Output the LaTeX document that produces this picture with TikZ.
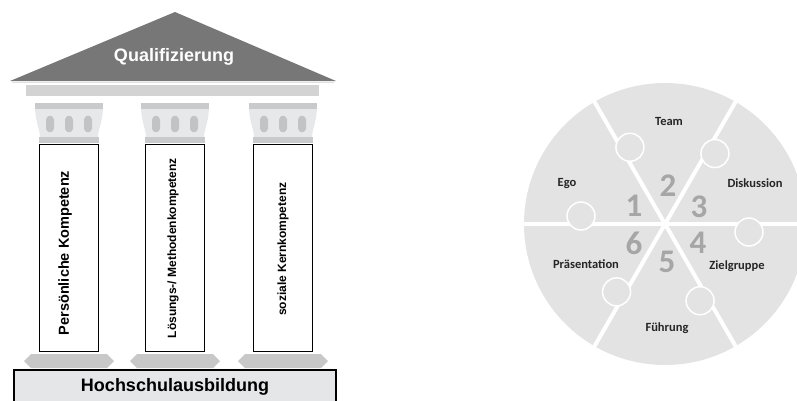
\documentclass[tikz,border=0pt]{standalone}
\usepackage{fontspec}
\setmainfont{Liberation Sans}
\newfontfamily\puzzlefont{Carlito}
\usetikzlibrary{calc}
\definecolor{dach}{HTML}{777777}
\definecolor{balken}{HTML}{D3D3D3}
\definecolor{band}{HTML}{C9CACB}
\definecolor{kapitell}{HTML}{E6E8EA}
\definecolor{ornament}{HTML}{C2C3C4}
\definecolor{sockel}{HTML}{C8C8C8}
\definecolor{fundament}{HTML}{E5E6E7}
\definecolor{puzzle}{HTML}{E3E3E3}
\definecolor{ziffer}{HTML}{A6A6A6}
\tikzset{
    saeule/.style={draw=black, fill=white, line width=1.4pt,
                   minimum width=59pt, minimum height=207pt, inner sep=0pt},
    stext/.style={rotate=90, font=\bfseries\fontsize{13}{13}\selectfont, inner sep=0pt},
    trenn/.style={white, line width=4pt},
    nase/.style={draw=white, fill=puzzle, line width=1.5pt},
    plabel/.style={font=\puzzlefont\bfseries\fontsize{12.5}{13}\selectfont, text=black!85},
    pzahl/.style={font=\puzzlefont\bfseries\fontsize{33}{33}\selectfont, text=ziffer}
}
% kapitell + sockel einer saeule, x=0 ist die mitte
\newcommand{\saeulenkopf}{%
    \fill[band] (-34,103) rectangle (34,109);
    \fill[kapitell] (-34,109) .. controls (-33,124) and (-29,130) .. (-29,137)
        -- (29,137) .. controls (29,130) and (33,124) .. (34,109) -- cycle;
    \fill[ornament,rounded corners=1.5pt] (-19,115) -- (-15,118) -- (-15,130) -- (-19,133) -- (-23,130) -- (-23,118) -- cycle;
    \fill[ornament,rounded corners=1.5pt] (0,115) -- (4,118) -- (4,130) -- (0,133) -- (-4,130) -- (-4,118) -- cycle;
    \fill[ornament,rounded corners=1.5pt] (19,115) -- (23,118) -- (23,130) -- (19,133) -- (15,130) -- (15,118) -- cycle;
    \fill[band] (-30,137) rectangle (30,143);
    \fill[sockel] (-45,361) -- (-38,354) -- (38,354) -- (45,361) -- (38,368) -- (-38,368) -- cycle;
}

\begin{document}
\begin{tikzpicture}[x=1pt,y=-1pt]
    \useasboundingbox (0,0) rectangle (797,400);

    % dach
    \fill[dach] (10,81) -- (175,12) -- (336,81) -- cycle;
    \node[text=white, font=\bfseries\fontsize{18}{18}\selectfont] (quali) at (174,57) {Qualifizierung};
    \draw[balken!70, line width=1pt] (12,82.5) -- (334,82.5);
    \fill[balken] (26,85) rectangle (319,96);

    % saeulen
    \begin{scope}[shift={(69,0)}]
        \saeulenkopf
    \end{scope}
    \begin{scope}[shift={(175,0)}]
        \saeulenkopf
    \end{scope}
    \begin{scope}[shift={(283,0)}]
        \saeulenkopf
    \end{scope}

    \node[saeule] (s1) at (69,248) {};
    \node[saeule] (s2) at (175,248) {};
    \node[saeule] (s3) at (283,248) {};
    \node[stext, font=\bfseries\fontsize{14.5}{14.5}\selectfont] (t1) at (65,253) {Persönliche Kompetenz};
    \node[stext, font=\bfseries\fontsize{12}{12}\selectfont] (t2) at (173,248) {Lösungs-/ Methodenkompetenz};
    \node[stext, font=\bfseries\fontsize{12}{12}\selectfont] (t3) at (283,249) {soziale Kernkompetenz};

    % fundament
    \draw[fill=fundament, line width=1.4pt] (14,370) rectangle (336,404);
    \node[font=\bfseries\fontsize{18}{18}\selectfont] (hs) at (175,387) {Hochschulausbildung};

    % puzzle
    \begin{scope}[shift={(665,224)}, yscale=-1]
        \fill[puzzle] (0,0) circle (141);
        \draw[trenn] (180:142) -- (0:142);
        \draw[trenn] (240:142) -- (60:142);
        \draw[trenn] (300:142) -- (120:142);
        \draw[nase] ($(0:84)+(-90:8)$) circle (14);
        \draw[nase] ($(60:86)+(-30:8)$) circle (14);
        \draw[nase] ($(120:84)+(30:8)$) circle (14);
        \draw[nase] ($(180:84)+(90:8)$) circle (14);
        \draw[nase] ($(240:83)+(150:8)$) circle (14);
        \draw[nase] ($(300:84)+(210:8)$) circle (14);
    \end{scope}

    \node[pzahl] (z1) at (634,206) {1};
    \node[pzahl] (z2) at (668,186) {2};
    \node[pzahl] (z3) at (699,207) {3};
    \node[pzahl] (z4) at (698,243) {4};
    \node[pzahl] (z5) at (667,262) {5};
    \node[pzahl] (z6) at (634,243) {6};

    \node[plabel] (team) at (669,121) {Team};
    \node[plabel] (ego) at (567,183) {Ego};
    \node[plabel] (disk) at (755,183) {Diskussion};
    \node[plabel] (praes) at (586,264) {Präsentation};
    \node[plabel] (ziel) at (737,266) {Zielgruppe};
    \node[plabel] (fuehr) at (667,328) {Führung};
\end{tikzpicture}
\end{document}
